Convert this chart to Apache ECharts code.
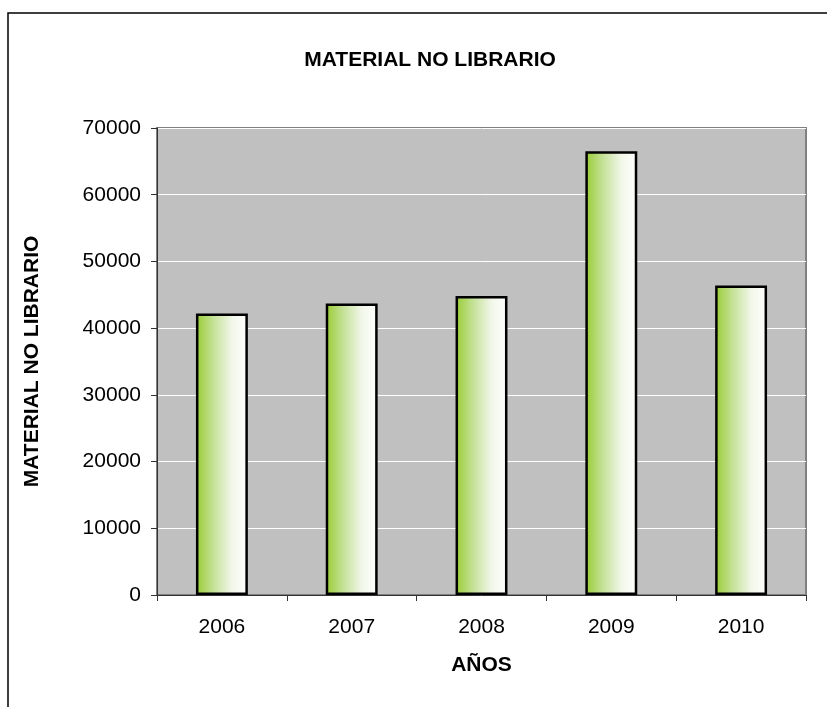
<!DOCTYPE html>
<html>
<head>
<meta charset="utf-8">
<script src="https://cdn.jsdelivr.net/npm/echarts@6/dist/echarts.min.js"></script>
<style>
html, body { margin: 0; padding: 0; background: #fff; }
#chart { width: 827px; height: 707px; }
</style>
</head>
<body>
<div id="chart"></div>
<script>
// datos
const years = ['2006', '2007', '2008', '2009', '2010'];
const material = [42200, 43700, 44800, 66500, 46400];

const chart = echarts.init(document.getElementById('chart'));

const fontFamily = '"Liberation Sans", Arial, sans-serif';

const option = {
    animation: false,
    backgroundColor: '#fff',
    title: {
        text: 'MATERIAL NO LIBRARIO',
        left: 425,
        top: 45,
        textAlign: 'center',
        textStyle: { fontFamily, fontSize: 21, fontWeight: 'bold', color: '#000' },
    },
    graphic: [
        {
            type: 'rect',
            shape: { x: 8, y: 13, width: 900, height: 800 },
            style: { fill: null, stroke: '#000', lineWidth: 1.5 },
            silent: true,
        },
    ],
    grid: {
        left: 157,
        top: 128,
        right: 21,
        bottom: 112,
        show: true,
        backgroundColor: '#C0C0C0',
        borderColor: '#808080',
        borderWidth: 2,
        containLabel: false,
    },
    xAxis: {
        type: 'category',
        data: years,
        name: 'AÑOS',
        nameLocation: 'middle',
        nameGap: 60,
        nameTextStyle: { fontFamily, fontSize: 21, fontWeight: 'bold', color: '#000' },
        axisLine: { show: true, lineStyle: { color: '#333', width: 1 } },
        axisTick: { show: true, length: 6, alignWithLabel: false, lineStyle: { color: '#333' } },
        axisLabel: { fontFamily, fontSize: 21, color: '#000', margin: 22 },
        splitLine: { show: false },
    },
    yAxis: {
        type: 'value',
        min: 0,
        max: 70000,
        interval: 10000,
        name: 'MATERIAL NO LIBRARIO',
        nameLocation: 'middle',
        nameGap: 114,
        nameRotate: 90,
        nameTextStyle: { fontFamily, fontSize: 21, fontWeight: 'bold', color: '#000' },
        axisLine: { show: true, lineStyle: { color: '#333', width: 1 } },
        axisTick: { show: true, length: 6, lineStyle: { color: '#333' } },
        axisLabel: { fontFamily, fontSize: 21, color: '#000', margin: 16, formatter: (v) => String(v) },
        splitLine: { show: true, lineStyle: { color: '#FFFFFF', width: 1 } },
    },
    series: [
        {
            type: 'bar',
            data: material,
            barWidth: '40%',
            itemStyle: {
                borderColor: '#000',
                borderWidth: 2.5,
                color: {
                    type: 'linear',
                    x: 0, y: 0, x2: 1, y2: 0,
                    colorStops: [
                        { offset: 0, color: '#99CC33' },
                        { offset: 0.35, color: '#C6E29A' },
                        { offset: 0.7, color: '#F2F7EA' },
                        { offset: 1, color: '#FFFFFF' },
                    ],
                },
            },
        },
    ],
};

chart.setOption(option);
</script>
</body>
</html>
